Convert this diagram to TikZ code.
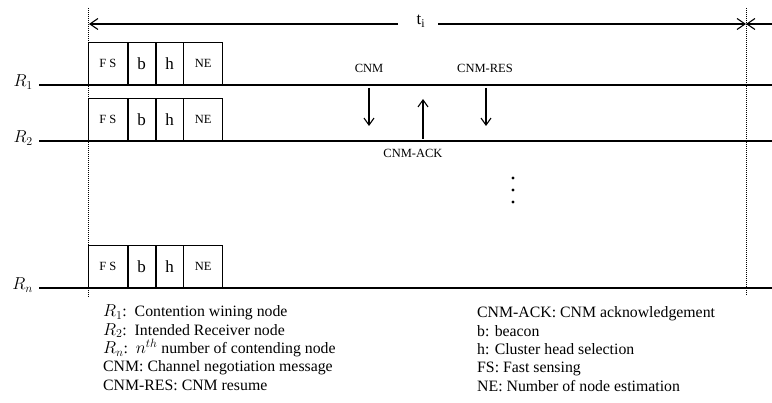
\documentclass[tikz,border=0pt]{standalone}
\usepackage{fontspec}
\setmainfont{Liberation Serif}
\usetikzlibrary{positioning,arrows.meta}

\newcommand{\keymath}[1]{{\fontsize{18}{18}\selectfont$#1$}}

\tikzset{
  slot/.style={draw, line width=0.8pt, minimum height=42pt, inner sep=0pt,
    font=\fontsize{12.5}{14}\selectfont},
  wideslot/.style={slot, minimum width=39pt},
  thinslot/.style={slot, minimum width=27pt, font=\fontsize{17}{20}\selectfont},
  timeline/.style={line width=2pt},
  bound/.style={densely dotted, line width=1pt},
  span/.style={-{Straight Barb[length=8pt,width=11pt]}, line width=1.1pt},
  msg/.style={-{Straight Barb[length=7pt,width=10pt]}, line width=1.1pt},
  msglabel/.style={font=\fontsize{12.5}{14}\selectfont, inner sep=0pt},
  legend/.style={anchor=base west, inner sep=0pt, font=\fontsize{15.8}{18}\selectfont},
}

\begin{document}
\begin{tikzpicture}[x=1pt,y=-1pt]
  \useasboundingbox (0,0) rectangle (772,403);

  \coordinate (top0) at (88,8);
  \coordinate (bot0) at (88,297);
  \coordinate (top1) at (746,8);
  \coordinate (bot1) at (746,296);
  \draw[bound] (top0) -- (bot0);
  \draw[bound] (top1) -- (bot1);

  \node[anchor=base, inner sep=0pt, font=\fontsize{17}{20}\selectfont] (ti) at (421,25) {t\textsubscript{i}};
  \coordinate (tl) at (398,24);
  \coordinate (tr) at (438,24);
  \coordinate (al) at (89,24);
  \coordinate (ar) at (746,24);
  \coordinate (ae) at (772,24);
  \draw[span] (tl) -- (al);
  \draw[span] (tr) -- (ar);
  \draw[span] (ae) -- (ar);

  \foreach \r/\y in {1/85, 2/141, n/288} {
    \node[anchor=base east, inner sep=0pt, font=\fontsize{18}{20}\selectfont] (R\r) at (33,\y+2) {$R_\r$};
    \coordinate (l\r) at (39,\y);
    \coordinate (e\r) at (772,\y);
    \draw[timeline] (l\r) -- (e\r);
    \node[wideslot, anchor=south west] (fs\r) at (88,\y) {F S};
    \node[thinslot, right=0pt of fs\r] (b\r) {b};
    \node[thinslot, right=0pt of b\r] (h\r) {h};
    \node[wideslot, right=0pt of h\r] (ne\r) {NE};
  }

  \node[msglabel] (cnm) at (369,68) {CNM};
  \node[msglabel] (cnmres) at (485,68) {CNM-RES};
  \node[msglabel] (cnmack) at (413,153) {CNM-ACK};
  \coordinate (cnm-s) at (369,88);
  \coordinate (cnm-e) at (369,126);
  \coordinate (ack-s) at (423,139);
  \coordinate (ack-e) at (423,99);
  \coordinate (res-s) at (486,88);
  \coordinate (res-e) at (486,126);
  \draw[msg] (cnm-s) -- (cnm-e);
  \draw[msg] (ack-s) -- (ack-e);
  \draw[msg] (res-s) -- (res-e);

  \foreach \y in {178,190,202}
    \fill (513,\y) circle (1.7pt);

  \foreach \txt [count=\i from 0] in {{\keymath{R_1}:\ \ Contention wining node},
      {\keymath{R_2}:\ \ Intended Receiver node},
      {\keymath{R_n}:\ \ \keymath{n^{th}} number of contending node},
      {CNM: Channel negotiation message},
      {CNM-RES: CNM resume}}
    \node[legend] (keyl\i) at (103,317+18.3*\i) {\txt};

  \foreach \txt [count=\i from 0] in {{CNM-ACK: CNM acknowledgement},
      {b: beacon},
      {h: Cluster head selection},
      {FS: Fast sensing},
      {NE: Number of node estimation}}
    \node[legend] (keyr\i) at (477,318+18.3*\i) {\txt};
\end{tikzpicture}
\end{document}
